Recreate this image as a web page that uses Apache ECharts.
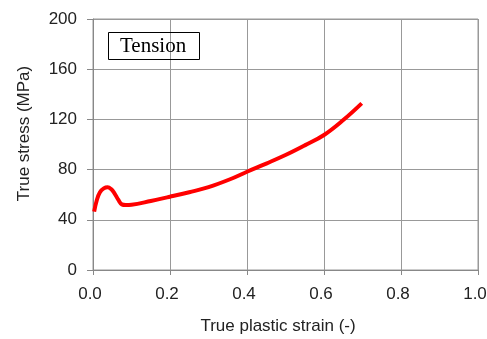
<!DOCTYPE html>
<html>
<head>
<meta charset="utf-8">
<script src="https://cdn.jsdelivr.net/npm/echarts@6/dist/echarts.min.js"></script>
<style>
  html, body { margin: 0; padding: 0; background: #fff; }
  #chart { width: 487px; height: 339px; }
</style>
</head>
<body>
<div id="chart"></div>
<script>
// true plastic strain (-) and true stress (MPa)
const strain = [0.003, 0.01, 0.018, 0.028, 0.038, 0.047, 0.055, 0.066, 0.075, 0.085, 0.1, 0.15, 0.2, 0.25, 0.3, 0.356, 0.4, 0.45, 0.5, 0.55, 0.6, 0.65, 0.698];
const stress = [46.5, 55.8, 62.0, 65.0, 65.9, 64.5, 61.5, 55.8, 52.3, 51.8, 52.0, 55.0, 58.4, 62.0, 66.0, 72.3, 78.3, 84.8, 91.6, 99.3, 107.6, 119.5, 132.8];
const xTicks = [0, 1.0, 0.2];   // min, max, step
const yTicks = [0, 200, 40];
const label = "Tension";

const chart = echarts.init(document.getElementById("chart"));
const txt = "#222";
const font = "Liberation Sans, Arial, sans-serif";

chart.setOption({
  animation: false,
  backgroundColor: "#fff",
  title: {
    text: label,
    left: 108, top: 32,
    borderWidth: 1, borderColor: "#000",
    padding: [4, 14, 3, 12],
    textStyle: { fontFamily: "Liberation Serif, Times New Roman, serif", fontSize: 21, fontWeight: "normal", color: "#000" }
  },
  grid: { left: 93, right: 9, top: 19, bottom: 69, show: true, borderColor: "#999", borderWidth: 1, outerBoundsMode: "none", containLabel: false },
  xAxis: {
    type: "value",
    min: xTicks[0], max: xTicks[1], interval: xTicks[2],
    name: "True plastic strain (-)",
    nameLocation: "middle", nameGap: 48,
    nameTextStyle: { fontFamily: font, fontSize: 17, color: txt, padding: [0, 15, 0, 0] },
    axisLine: { lineStyle: { color: "#888" } },
    axisTick: { show: true, length: 5, lineStyle: { color: "#888" } },
    axisLabel: { formatter: v => v.toFixed(1), fontFamily: font, fontSize: 17, color: txt, margin: 16, padding: [0, 6, 0, 0] },
    splitLine: { lineStyle: { color: "#999", width: 1 } }
  },
  yAxis: {
    type: "value",
    min: yTicks[0], max: yTicks[1], interval: yTicks[2],
    name: "True stress (MPa)",
    nameLocation: "middle", nameGap: 60, nameRotate: 90,
    nameTextStyle: { fontFamily: font, fontSize: 17, color: txt, padding: [0, 0, 0, 22] },
    axisLine: { show: true, lineStyle: { color: "#888" } },
    axisTick: { show: true, length: 6, lineStyle: { color: "#888" } },
    axisLabel: { fontFamily: font, fontSize: 17, color: txt, margin: 16 },
    splitLine: { lineStyle: { color: "#999", width: 1 } }
  },
  series: [{
    type: "line",
    data: strain.map((x, i) => [x, stress[i]]),
    smooth: 0.4,
    showSymbol: false,
    lineStyle: { color: "#ff0000", width: 4 }
  }]
});
</script>
</body>
</html>
